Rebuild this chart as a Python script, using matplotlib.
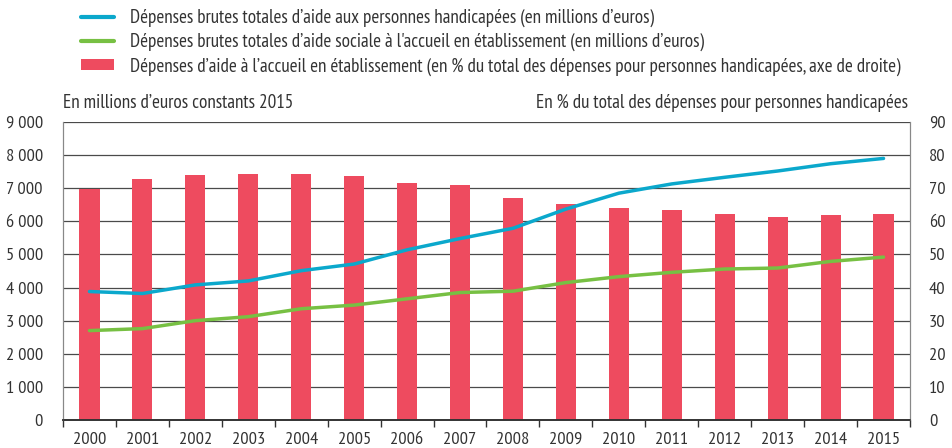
import matplotlib

matplotlib.use("Agg")
import matplotlib.pyplot as plt
from matplotlib.lines import Line2D
from matplotlib.patches import Patch
from matplotlib.ticker import FixedLocator, FuncFormatter, MultipleLocator

plt.rcParams["font.family"] = ["PT Sans Narrow", "Asap Condensed", "Archivo Narrow",
                               "Barlow Semi Condensed", "DejaVu Sans"]

years = [str(y) for y in range(2000, 2016)]
# left axis: millions d'euros constants 2015
depenses_totales = [3880, 3820, 4080, 4200, 4510, 4710, 5140, 5480, 5790, 6370,
                    6850, 7130, 7330, 7520, 7740, 7900]
depenses_accueil = [2700, 2760, 3000, 3120, 3360, 3470, 3660, 3850, 3890, 4150,
                    4330, 4460, 4560, 4590, 4790, 4920]
# right axis: % du total
part_accueil = [69.8, 72.8, 74.0, 74.4, 74.4, 73.8, 71.7, 71.0, 67.1, 65.3,
                63.9, 63.3, 62.3, 61.3, 62.0, 62.3]

BLUE = "#0ba8cc"
GREEN = "#77c043"
RED = "#ee4b5f"
TXT = "#333333"
FS_TXT = 13.8
FS_TICK = 13.2

fig = plt.figure(figsize=(9.53, 4.48), dpi=100)
ax = fig.add_axes([63 / 953, 1 - 420 / 448, (910 - 63) / 953, (420 - 122) / 448])
ax2 = ax.twinx()
ax.set_zorder(2)
ax2.set_zorder(1)
ax.patch.set_visible(False)

x = list(range(len(years)))

# bars + grid on the right axis (behind)
ax2.bar(x, part_accueil, width=0.38, color=RED, zorder=2)
ax2.set_ylim(0, 90)
ax2.yaxis.set_major_locator(MultipleLocator(10))
ax2.grid(axis="y", color="#4a4a4a", lw=0.9, zorder=0)
ax2.set_axisbelow(True)
ax2.tick_params(axis="y", length=0, pad=13.7, labelsize=FS_TICK, colors=TXT)

# lines on the left axis (front)
ax.plot(x, depenses_totales, color=BLUE, lw=2.5, solid_capstyle="round")
ax.plot(x, depenses_accueil, color=GREEN, lw=2.5, solid_capstyle="round")
ax.set_ylim(0, 9000)
ax.set_xlim(-0.5, len(years) - 0.5)
ax.yaxis.set_major_locator(MultipleLocator(1000))
ax.yaxis.set_major_formatter(FuncFormatter(lambda v, p: f"{v:,.0f}".replace(",", " ")))
ax.tick_params(axis="y", length=0, pad=14.4, labelsize=FS_TICK, colors=TXT)

# x: boundary ticks, labels at centres
ax.xaxis.set_major_locator(FixedLocator([i - 0.5 for i in range(len(years) + 1)]))
ax.xaxis.set_major_formatter(FuncFormatter(lambda v, p: ""))
ax.xaxis.set_minor_locator(FixedLocator(x))
ax.set_xticklabels(years, minor=True)
ax.tick_params(axis="x", which="major", length=5, width=1, color="#333333", direction="out")
ax.tick_params(axis="x", which="minor", length=0, pad=8.5, labelsize=FS_TICK, colors=TXT)
ax2.tick_params(axis="x", which="both", length=0)

for a in (ax, ax2):
    a.spines["top"].set_visible(False)
    a.spines["left"].set_color("#888888")
    a.spines["right"].set_color("#888888")
    a.spines["bottom"].set_color("#333333")
    a.spines["bottom"].set_linewidth(1.2)

fig.text(63 / 953, 1 - 103 / 448, "En millions d\u2019euros constants 2015",
         ha="left", va="center", fontsize=FS_TXT, color=TXT)
fig.text(908 / 953, 1 - 103 / 448, "En % du total des dépenses pour personnes handicapées",
         ha="right", va="center", fontsize=FS_TXT, color=TXT)

handles = [
    Line2D([], [], color=BLUE, lw=3, solid_capstyle="round"),
    Line2D([], [], color=GREEN, lw=3, solid_capstyle="round"),
    Patch(facecolor=RED, edgecolor="none"),
]
labels = [
    "Dépenses brutes totales d\u2019aide aux personnes handicapées (en millions d\u2019euros)",
    "Dépenses brutes totales d\u2019aide sociale à l'accueil en établissement (en millions d\u2019euros)",
    "Dépenses d\u2019aide à l\u2019accueil en établissement (en % du total des dépenses pour personnes handicapées, axe de droite)",
]
fig.legend(handles, labels, loc="upper left", bbox_to_anchor=(81 / 953, 1 - 8.7 / 448),
           frameon=False, fontsize=FS_TXT, labelcolor=TXT, handlelength=1.7,
           handleheight=0.48, handletextpad=0.85, labelspacing=0.32, borderpad=0,
           borderaxespad=0)

fig.savefig("out.png", dpi=100)
